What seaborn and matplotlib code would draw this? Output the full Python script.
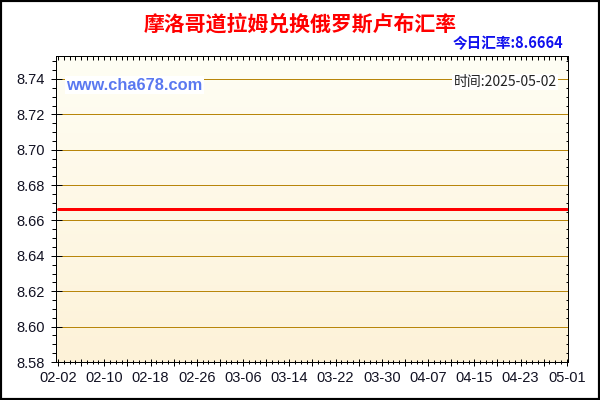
"""
plot.py
-------
Moroccan dirham -> Russian ruble exchange rate chart (cha678 style),
saved to out.png at 600x400.
"""

import matplotlib
matplotlib.use("Agg")  # headless
import matplotlib.pyplot as plt
import matplotlib.dates as mdates
from matplotlib.colors import LinearSegmentedColormap
from matplotlib.patches import Rectangle
from matplotlib.ticker import FixedLocator, FuncFormatter, MultipleLocator, NullFormatter
import numpy as np
import pandas as pd
import seaborn as sns

# ---- data ----
dates = ["2025-02-02", "2025-05-01"]
rates = [8.6664, 8.6664]

x_labels = ["02-02", "02-10", "02-18", "02-26", "03-06", "03-14",
            "03-22", "03-30", "04-07", "04-15", "04-23", "05-01"]
y_ticks = [8.58, 8.60, 8.62, 8.64, 8.66, 8.68, 8.70, 8.72, 8.74]

TITLE = "摩洛哥道拉姆兑换俄罗斯卢布汇率"
TODAY_RATE = "今日汇率:8.6664"
STAMP = "时间:2025-05-02"
SITE = "www.cha678.com"

CJK = ["Noto Sans CJK SC", "DejaVu Sans"]
LATIN = ["Liberation Sans", "DejaVu Sans"]

sns.set_theme(style="white")
plt.rcParams["font.family"] = LATIN

PX = 72 / 100  # points per pixel at dpi 100

fig = plt.figure(figsize=(6, 4), dpi=100)
fig.patch.set_facecolor("white")
ax = fig.add_axes([56 / 600, 1 - 362 / 400, 512 / 600, 306 / 400])

# soft vertical gradient behind the plot
bg = LinearSegmentedColormap.from_list("bg", ["#FFFEF4", "#FDF2D8"])
ax.imshow(np.linspace(0, 1, 256).reshape(-1, 1), cmap=bg, aspect="auto",
          extent=[0, 1, 0, 1], transform=ax.transAxes, zorder=0)

df = pd.DataFrame({"date": pd.to_datetime(dates), "rate": rates})
sns.lineplot(data=df, x="date", y="rate", ax=ax, color="#FF0000",
             linewidth=3 * PX, zorder=3)

# limits
x0 = mdates.date2num(pd.Timestamp("2025-02-02")) - 0.35
x1 = mdates.date2num(pd.Timestamp("2025-05-01")) + 0.2
ax.set_xlim(x0, x1)
ax.set_ylim(y_ticks[0], 8.753)
ax.set_xlabel("")
ax.set_ylabel("")

# x ticks: tall every 4 days, label every 8, small every day
first = pd.Timestamp("2025-02-02")
last = pd.Timestamp("2025-05-01")
major_x = mdates.date2num(pd.date_range(first, last, freq="4D"))
minor_x = mdates.date2num(pd.date_range(first, last, freq="1D"))
ax.xaxis.set_major_locator(FixedLocator(major_x))
ax.xaxis.set_minor_locator(FixedLocator(minor_x))


def date_label(val, pos):
    s = mdates.num2date(val).strftime("%m-%d")
    return s if s in x_labels else ""


ax.xaxis.set_major_formatter(FuncFormatter(date_label))
ax.xaxis.set_minor_formatter(NullFormatter())

ax.yaxis.set_major_locator(FixedLocator(y_ticks))
ax.yaxis.set_minor_locator(MultipleLocator(0.005))
ax.yaxis.set_major_formatter(FuncFormatter(lambda v, p: f"{v:.2f}"))

ax.tick_params(axis="x", which="major", direction="inout", length=7 * PX,
               width=1 * PX, color="black", bottom=True, top=False,
               pad=4, labelsize=10.5, labelcolor="#111122")
ax.tick_params(axis="x", which="minor", direction="inout", length=4.5 * PX,
               width=1 * PX, color="black", bottom=True, top=False)
ax.tick_params(axis="y", which="major", direction="inout", length=11 * PX,
               width=1 * PX, color="black", left=True, right=False,
               pad=4, labelsize=10.5, labelcolor="#111122")
ax.tick_params(axis="y", which="minor", direction="out", length=4.5 * PX,
               width=1 * PX, color="black", left=True, right=False)

# inward ticks on top and right
secx = ax.secondary_xaxis("top")
secx.xaxis.set_major_locator(FixedLocator(minor_x))
secx.xaxis.set_major_formatter(NullFormatter())
secx.tick_params(direction="in", length=4 * PX, width=1 * PX, color="black")
secx.spines["top"].set_color("black")
secx.spines["top"].set_linewidth(1 * PX)

secy = ax.secondary_yaxis("right")
secy.yaxis.set_major_locator(FixedLocator(y_ticks))
secy.yaxis.set_minor_locator(MultipleLocator(0.005))
secy.yaxis.set_major_formatter(NullFormatter())
secy.tick_params(which="major", direction="in", length=5 * PX, width=1 * PX, color="black")
secy.tick_params(which="minor", direction="in", length=2.5 * PX, width=1 * PX, color="black")
secy.spines["right"].set_color("black")
secy.spines["right"].set_linewidth(1 * PX)

ax.yaxis.grid(True, color="#B8860B", linewidth=1 * PX)
ax.xaxis.grid(False)
for sp in ax.spines.values():
    sp.set_color("black")
    sp.set_linewidth(1 * PX)

# texts
fig.text(0.5, 1 - 24 / 400, TITLE, ha="center", va="center", color="#FF0000",
         fontsize=15, fontweight="bold", family=CJK)
fig.text(563 / 600, 1 - 43 / 400, TODAY_RATE, ha="right", va="center",
         color="#1010EE", fontsize=10.5, fontweight="bold", family=CJK)
fig.text(66 / 600, 1 - 85 / 400, SITE, ha="left", va="center", color="#5A78F0",
         fontsize=11.8, fontweight="bold", family=LATIN,
         bbox=dict(facecolor="white", edgecolor="none", pad=1))
fig.text(557 / 600, 1 - 82 / 400, STAMP, ha="right", va="center", color="#222222",
         fontsize=10, family=CJK,
         bbox=dict(facecolor="white", edgecolor="none", pad=1))

# outer frame
fig.patches.append(Rectangle((0, 0), 1, 1, transform=fig.transFigure, fill=False,
                             edgecolor="black", linewidth=3))

fig.savefig("out.png", dpi=100)
plt.close(fig)
